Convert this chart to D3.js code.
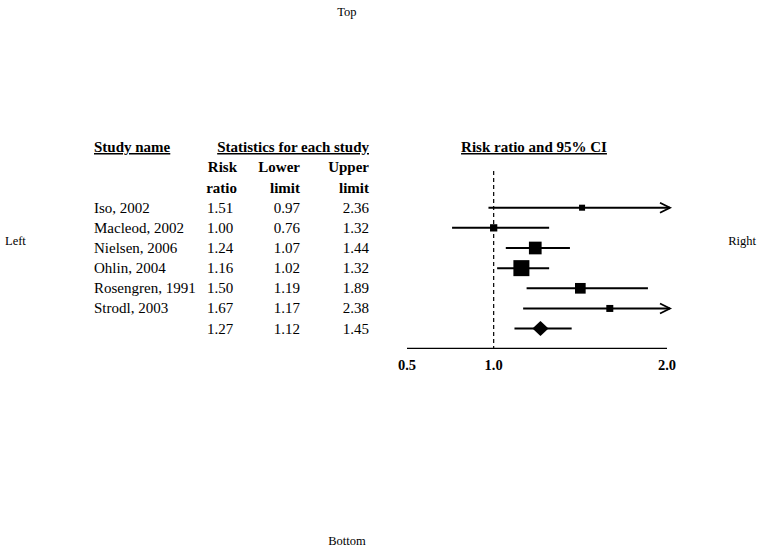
<!DOCTYPE html>
<html><head><meta charset="utf-8">
<script src="https://cdn.jsdelivr.net/npm/d3@7"></script>
<style>body{margin:0;background:#fff}svg{display:block}text{font-family:"Liberation Serif","Times New Roman",serif;fill:#000}</style>
</head><body>
<script>
const studies = ["Iso, 2002","Macleod, 2002","Nielsen, 2006","Ohlin, 2004","Rosengren, 1991","Strodl, 2003"];
const riskRatio = [1.51,1.00,1.24,1.16,1.50,1.67];
const lowerLimit = [0.97,0.76,1.07,1.02,1.19,1.17];
const upperLimit = [2.36,1.32,1.44,1.32,1.89,2.38];
const weights = [5.4,7.9,24.1,38.3,17.0,7.3];
const summary = {rr:1.27, lo:1.12, hi:1.45};
const tickValues = [0.5,1.0,2.0];

const W=762,H=552;
const svg=d3.select("body").append("svg").attr("width",W).attr("height",H);
svg.append("rect").attr("width",W).attr("height",H).attr("fill","#fff");

const x=d3.scaleLinear().domain([0.5,2.0]).range([407,667]);
const rows=d3.range(studies.length+1);
const y=d3.scalePoint().domain(rows).range([207.7,207.7+20.15*studies.length]);
const size=d3.scaleSqrt().domain([0,d3.max(weights)]).range([0,16]);

// margin labels
const side=svg.append("g").attr("font-size",12.5);
side.append("text").attr("x",347).attr("y",16).attr("text-anchor","middle").text("Top");
side.append("text").attr("x",347).attr("y",545).attr("text-anchor","middle").text("Bottom");
side.append("text").attr("x",5).attr("y",245).text("Left");
side.append("text").attr("x",756).attr("y",245).attr("text-anchor","end").text("Right");

// headers
const hdr=svg.append("g").attr("font-size",15).attr("font-weight","bold");
function ul(t,xp,yp,anchor){
  return hdr.append("text").attr("x",xp).attr("y",yp).attr("text-anchor",anchor).attr("text-decoration","underline").text(t);
}
ul("Study name",94,152,"start");
ul("Statistics for each study",369,152,"end");
ul("Risk ratio and 95% CI",534,152,"middle");
[["Risk","ratio",237],["Lower","limit",300],["Upper","limit",369]].forEach(([a,b,xp])=>{
  hdr.append("text").attr("x",xp).attr("y",172).attr("text-anchor","end").text(a);
  hdr.append("text").attr("x",xp).attr("y",193).attr("text-anchor","end").text(b);
});

// table body
const tb=svg.append("g").attr("font-size",15);
const fmt=d3.format(".2f");
const allRR=riskRatio.concat([summary.rr]), allLo=lowerLimit.concat([summary.lo]), allHi=upperLimit.concat([summary.hi]);
rows.forEach(i=>{
  const yy=y(i)+5;
  if(i<studies.length) tb.append("text").attr("x",94).attr("y",yy).text(studies[i]);
  tb.append("text").attr("x",207).attr("y",yy).text(fmt(allRR[i]));
  tb.append("text").attr("x",300).attr("y",yy).attr("text-anchor","end").text(fmt(allLo[i]));
  tb.append("text").attr("x",369).attr("y",yy).attr("text-anchor","end").text(fmt(allHi[i]));
});

// axis
const axisY=348.3;
svg.append("line").attr("x1",x(0.5)).attr("x2",x(2.0)).attr("y1",axisY).attr("y2",axisY).attr("stroke","#000").attr("stroke-width",1.3);
svg.append("g").attr("font-size",14.5).attr("font-weight","bold").selectAll("text").data(tickValues).join("text")
  .attr("x",d=>x(d)).attr("y",370).attr("text-anchor","middle").text(d3.format(".1f"));
svg.append("line").attr("x1",x(1)).attr("x2",x(1)).attr("y1",171).attr("y2",axisY).attr("stroke","#000").attr("stroke-width",1.2).attr("stroke-dasharray","4,3");

// CIs
const g=svg.append("g");
studies.forEach((s,i)=>{
  const yy=y(i);
  const lo=Math.max(lowerLimit[i],0.5), hi=Math.min(upperLimit[i],2.0);
  const x2=upperLimit[i]>2.0? x(2.0)+3 : x(hi);
  g.append("line").attr("x1",x(lo)).attr("x2",x2).attr("y1",yy).attr("y2",yy).attr("stroke","#000").attr("stroke-width",2);
  if(upperLimit[i]>2.0){
    g.append("path").attr("d",`M${x2-10},${yy-5}L${x2},${yy}L${x2-10},${yy+5}`).attr("fill","none").attr("stroke","#000").attr("stroke-width",1.8);
  }
  const s2=size(weights[i]);
  g.append("rect").attr("x",x(riskRatio[i])-s2/2).attr("y",yy-s2/2).attr("width",s2).attr("height",s2).attr("fill","#000");
});
// summary
const ys=y(studies.length);
g.append("line").attr("x1",x(summary.lo)).attr("x2",x(summary.hi)).attr("y1",ys).attr("y2",ys).attr("stroke","#000").attr("stroke-width",2);
const cx=x(summary.rr);
g.append("path").attr("d",`M${cx-8},${ys}L${cx},${ys-7.5}L${cx+8},${ys}L${cx},${ys+7.5}Z`).attr("fill","#000");
</script>
</body></html>
